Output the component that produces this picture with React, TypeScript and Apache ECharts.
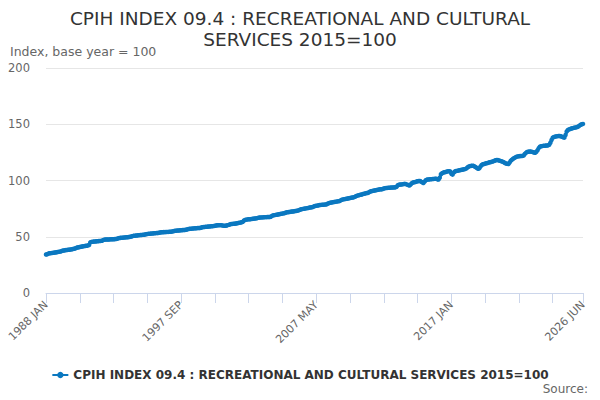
import React, { useEffect, useRef } from "react";
import * as echarts from "echarts";

const TITLE = "CPIH INDEX 09.4 : RECREATIONAL AND CULTURAL\nSERVICES 2015=100";
const SERIES_NAME = "CPIH INDEX 09.4 : RECREATIONAL AND CULTURAL SERVICES 2015=100";
const Y_NAME = "Index, base year = 100";
const SOURCE = "Source:";
const MONTHS = ["JAN", "FEB", "MAR", "APR", "MAY", "JUN", "JUL", "AUG", "SEP", "OCT", "NOV", "DEC"];
const START_YEAR = 1988;

// monthly index values, Jan 1988 onward
const values1988to1989 = [
  34.2, 34.5, 35.0, 35.3, 35.4, 35.6, 35.7, 35.9, 36.0, 36.2, 36.4, 36.6,
  36.8, 37.0, 37.5, 37.8, 37.9, 38.1, 38.2, 38.4, 38.5, 38.7, 38.8, 39.0,
];
const values1990s = [
  39.3, 39.6, 40.1, 40.5, 40.7, 40.9, 41.1, 41.3, 41.5, 41.7, 41.9, 42.0,
  42.3, 42.7, 45.0, 45.4, 45.6, 45.7, 45.8, 45.9, 46.0, 46.1, 46.2, 46.3,
  46.5, 47.0, 47.3, 47.5, 47.5, 47.6, 47.6, 47.7, 47.7, 47.8, 47.8, 47.9,
  48.0, 48.2, 48.6, 48.9, 49.0, 49.1, 49.2, 49.3, 49.4, 49.5, 49.6, 49.8,
  49.9, 50.1, 50.5, 50.8, 50.9, 51.0, 51.1, 51.3, 51.4, 51.5, 51.6, 51.7,
  51.8, 52.0, 52.3, 52.5, 52.6, 52.7, 52.8, 52.9, 53.0, 53.1, 53.2, 53.3,
  53.3, 53.5, 53.8, 54.0, 54.0, 54.1, 54.1, 54.2, 54.3, 54.3, 54.4, 54.5,
  54.6, 54.8, 55.1, 55.3, 55.4, 55.5, 55.6, 55.7, 55.8, 55.9, 56.0, 56.0,
  56.2, 56.4, 56.8, 57.0, 57.1, 57.2, 57.3, 57.4, 57.5, 57.6, 57.7, 57.8,
  57.8, 58.0, 58.4, 58.6, 58.7, 58.8, 58.9, 59.0, 59.1, 59.2, 59.3, 59.4,
];
const values2000s = [
  59.5, 59.7, 60.0, 60.2, 60.2, 60.3, 60.3, 60.1, 59.9, 59.7, 59.8, 60.0,
  60.3, 60.6, 61.0, 61.3, 61.4, 61.5, 61.6, 61.8, 62.0, 62.2, 62.4, 62.6,
  62.9, 63.3, 64.5, 65.0, 65.2, 65.4, 65.5, 65.6, 65.7, 65.9, 66.0, 66.2,
  66.3, 66.5, 66.8, 67.0, 67.1, 67.2, 67.2, 67.3, 67.4, 67.4, 67.5, 67.5,
  67.6, 67.8, 68.6, 69.0, 69.2, 69.4, 69.6, 69.8, 70.0, 70.2, 70.4, 70.6,
  70.8, 71.0, 71.5, 71.8, 71.9, 72.0, 72.2, 72.4, 72.5, 72.7, 72.9, 73.0,
  73.2, 73.5, 74.0, 74.4, 74.6, 74.8, 75.0, 75.2, 75.4, 75.6, 75.9, 76.0,
  76.2, 76.5, 77.0, 77.3, 77.5, 77.7, 77.9, 78.2, 78.3, 78.4, 78.5, 78.6,
  78.6, 78.9, 79.5, 79.9, 80.2, 80.4, 80.6, 80.8, 81.0, 81.2, 81.4, 81.6,
  81.8, 82.3, 82.9, 83.2, 83.4, 83.6, 83.8, 84.0, 84.2, 84.5, 84.7, 84.9,
];
const values2010s = [
  85.0, 85.4, 86.0, 86.5, 86.8, 87.0, 87.3, 87.6, 87.9, 88.2, 88.5, 88.8,
  88.9, 89.3, 90.0, 90.5, 90.7, 90.9, 91.1, 91.3, 91.5, 91.8, 92.0, 92.2,
  92.1, 92.4, 92.9, 93.2, 93.3, 93.4, 93.5, 93.6, 93.7, 93.8, 93.8, 93.9,
  93.9, 94.5, 95.8, 96.2, 96.4, 96.5, 96.6, 96.8, 97.0, 96.8, 96.3, 96.0,
  95.6, 96.5, 97.6, 98.2, 98.4, 98.7, 99.0, 99.3, 99.6, 99.5, 99.0, 98.5,
  97.8, 99.0, 100.2, 100.8, 100.9, 101.0, 101.1, 101.2, 101.3, 101.4, 101.5, 101.6,
  101.0, 100.8, 102.5, 105.5, 106.5, 107.0, 107.3, 107.6, 107.9, 108.1, 108.3, 108.0,
  106.0, 105.2, 107.0, 108.0, 108.4, 108.6, 108.8, 109.1, 109.3, 109.5, 109.8, 110.0,
  110.3, 110.8, 111.8, 112.5, 112.8, 113.0, 113.1, 113.0, 112.5, 111.8, 111.0, 110.4,
  110.8, 112.5, 113.8, 114.4, 114.7, 115.0, 115.3, 115.6, 115.9, 116.2, 116.5, 116.8,
];
const values2020s = [
  117.0, 117.5, 118.0, 118.2, 118.1, 117.8, 117.4, 117.0, 116.8, 116.2, 115.5, 115.0,
  114.8, 114.6, 116.0, 117.5, 118.5, 119.3, 120.0, 120.6, 121.2, 121.4, 121.6, 121.8,
  121.7, 121.9, 122.1, 123.5, 124.6, 125.3, 125.6, 125.8, 125.7, 125.5, 125.2, 124.9,
  124.7, 125.5, 127.0, 128.8, 130.0, 130.4, 130.6, 130.8, 130.9, 131.0, 131.1, 131.2,
  131.8, 133.5, 136.0, 138.1, 138.6, 139.0, 139.2, 139.4, 139.5, 139.6, 139.3, 138.8,
  138.4, 138.1, 140.5, 143.5, 144.9, 145.4, 145.8, 146.2, 146.5, 146.8, 147.0, 147.2,
  147.5, 148.0, 148.8, 149.5, 150.0, 150.3,
];
const Y_TICKS = [0, 50, 100, 150, 200];

const seriesValues = [
  ...values1988to1989,
  ...values1990s,
  ...values2000s,
  ...values2010s,
  ...values2020s,
];
const categories = seriesValues.map(
  (_, i) => `${START_YEAR + Math.floor(i / 12)} ${MONTHS[i % 12]}`
);
const LAST = categories.length - 1;

const FONT = "DejaVu Sans";
const LINE_COLOR = "#0b78c0";

export default function App() {
  const ref = useRef<HTMLDivElement>(null);
  useEffect(() => {
    document.body.style.margin = "0";
    if (!ref.current) return;
    const chart = echarts.init(ref.current, null, { renderer: "svg" });
    chart.setOption({
      animation: false,
      textStyle: { fontFamily: FONT },
      title: {
        text: TITLE,
        left: "center",
        top: 3,
        textStyle: {
          fontFamily: FONT,
          fontSize: 18.5,
          fontWeight: "normal",
          color: "#333333",
          lineHeight: 21,
        },
      },
      graphic: [
        {
          type: "text",
          left: 10,
          top: 45,
          style: { text: Y_NAME, fontFamily: FONT, fontSize: 12.5, fill: "#666666" },
        },
        {
          type: "text",
          right: 12,
          top: 383,
          style: { text: SOURCE, fontFamily: FONT, fontSize: 12, fill: "#666666" },
        },
      ],
      legend: {
        top: 364,
        left: "center",
        itemWidth: 16,
        itemHeight: 8,
        itemGap: 6,
        textStyle: { fontFamily: FONT, fontSize: 12, fontWeight: "bold", color: "#333333" },
        data: [SERIES_NAME],
      },
      grid: { left: 46, right: 17, top: 68, bottom: 107, containLabel: false },
      xAxis: {
        type: "category",
        data: categories,
        boundaryGap: false,
        axisLine: { lineStyle: { color: "#ccd6eb" } },
        axisTick: {
          length: 10,
          lineStyle: { color: "#ccd6eb" },
          interval: (index: number) => index % 29 === 0 || index === LAST,
        },
        axisLabel: {
          rotate: 45,
          fontFamily: FONT,
          fontSize: 11,
          color: "#666666",
          margin: 10,
          interval: (index: number) => index % 116 === 0 || index === LAST,
          showMaxLabel: true,
        },
        splitLine: { show: false },
      },
      yAxis: {
        type: "value",
        min: Y_TICKS[0],
        max: Y_TICKS[Y_TICKS.length - 1],
        interval: Y_TICKS[1] - Y_TICKS[0],
        axisLine: { show: false },
        axisTick: { show: false },
        axisLabel: { fontFamily: FONT, fontSize: 11.5, color: "#666666", margin: 16 },
        splitLine: { lineStyle: { color: "#e6e6e6" } },
      },
      series: [
        {
          name: SERIES_NAME,
          type: "line",
          data: seriesValues,
          showAllSymbol: true,
          symbol: "circle",
          symbolSize: 4.5,
          lineStyle: { width: 3, color: LINE_COLOR },
          itemStyle: { color: LINE_COLOR },
        },
      ],
    });
    return () => chart.dispose();
  }, []);
  return <div ref={ref} style={{ width: 600, height: 400 }} />;
}
